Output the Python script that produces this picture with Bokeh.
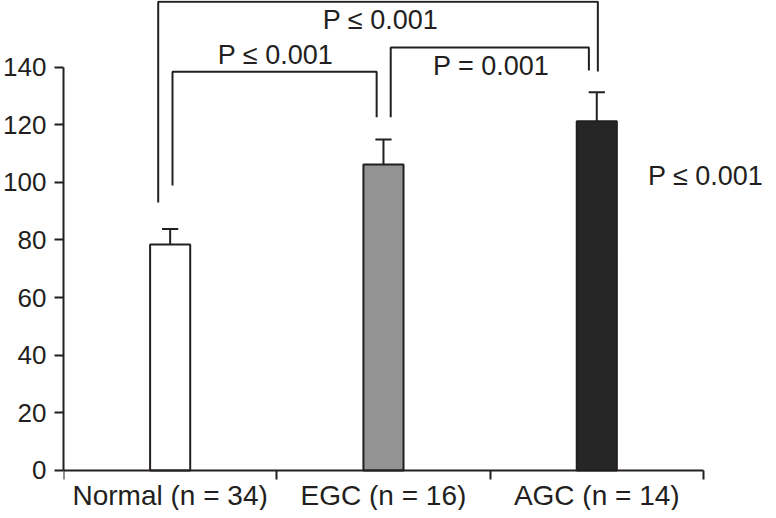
from bokeh.plotting import figure
from bokeh.models import LinearAxis, FixedTicker, Range1d, ColumnDataSource
from bokeh.core.properties import value
from bokeh.embed import file_html
from bokeh.resources import INLINE

# ---- data ----
categories = ["Normal (n = 34)", "EGC (n = 16)", "AGC (n = 14)"]
means = [78.4, 106.2, 121.2]
errors = [5.4, 8.7, 10.1]
bar_colors = ["#ffffff", "#939393", "#262626"]
y_ticks = [0, 20, 40, 60, 80, 100, 120, 140]

# significance brackets: left x, right x, top y, left-leg bottom, right-leg bottom
br_left = [0.444, 0.511, 1.534]
br_right = [2.505, 1.468, 2.463]
br_top = [162.7, 138.4, 146.8]
br_left_bottom = [93.0, 98.9, 122.6]
br_right_bottom = [138.5, 122.6, 138.8]
p_labels = ["P \u2264 0.001", "P \u2264 0.001", "P = 0.001", "P \u2264 0.001"]
p_label_x = [1.486, 0.994, 2.005, 2.74]
p_label_y = [156.3, 144.3, 140.5, 102.2]
p_label_align = ["center", "center", "center", "left"]

INK = "#231f20"
FONT = "Liberation Sans"

xs = [i + 0.5 for i in range(len(categories))]
bar_w = 0.188
cap_half = 0.038

p = figure(width=768, height=510, output_backend="svg", toolbar_location=None,
           x_range=Range1d(0, 3.305), y_range=Range1d(-13.9, 163.1),
           x_axis_type=None, y_axis_type=None,
           min_border_left=61, min_border_right=0, min_border_top=0, min_border_bottom=0)
p.outline_line_color = None
p.xgrid.visible = False
p.ygrid.visible = False
p.background_fill_color = "white"
p.border_fill_color = "white"

# bars
src = ColumnDataSource(dict(x=xs, top=means, color=bar_colors))
p.vbar(x="x", top="top", width=bar_w, bottom=0, source=src,
       fill_color="color", line_color=INK, line_width=2)

# error bars (upper only)
upper = [m + e for m, e in zip(means, errors)]
p.segment(x0=xs, y0=means, x1=xs, y1=upper, line_color=INK, line_width=2)
p.segment(x0=[x - cap_half for x in xs], y0=upper,
          x1=[x + cap_half for x in xs], y1=upper, line_color=INK, line_width=2)

# brackets
bxs = [[l, l, r, r] for l, r in zip(br_left, br_right)]
bys = [[lb, t, t, rb] for lb, t, rb in zip(br_left_bottom, br_top, br_right_bottom)]
p.multi_line(xs=bxs, ys=bys, line_color=INK, line_width=2)

p.text(x=p_label_x, y=p_label_y, text=p_labels, text_align=p_label_align,
       text_baseline="middle", text_font=value(FONT), text_font_size="27px",
       text_color=INK)

# y axis
yax = LinearAxis(ticker=FixedTicker(ticks=y_ticks), bounds=(0, 140))
yax.axis_line_color = INK
yax.axis_line_width = 2
yax.major_tick_line_color = INK
yax.major_tick_line_width = 2
yax.major_tick_out = 9
yax.major_tick_in = 0
yax.minor_tick_line_color = None
yax.major_label_standoff = 8
yax.major_label_text_font = FONT
yax.major_label_text_font_size = "26px"
yax.major_label_text_color = INK
p.add_layout(yax, "left")

# x axis at y = 0: labels at category centres, ticks at boundaries
xax = LinearAxis(ticker=FixedTicker(ticks=xs, minor_ticks=[0, 1, 2, 3]), bounds=(0, 3),
                 fixed_location=0)
xax.major_label_overrides = {x: c for x, c in zip(xs, categories)}
xax.axis_line_color = INK
xax.axis_line_width = 2
xax.major_tick_line_color = None
xax.major_tick_out = 0
xax.major_tick_in = 0
xax.minor_tick_line_color = INK
xax.minor_tick_line_width = 2
xax.minor_tick_out = 9
xax.minor_tick_in = 0
xax.major_label_standoff = 1
xax.axis_label_standoff = 0
xax.major_label_text_font = FONT
xax.major_label_text_font_size = "28px"
xax.major_label_text_color = INK
p.add_layout(xax, "below")

open("out.html", "w").write(file_html(p, INLINE))
